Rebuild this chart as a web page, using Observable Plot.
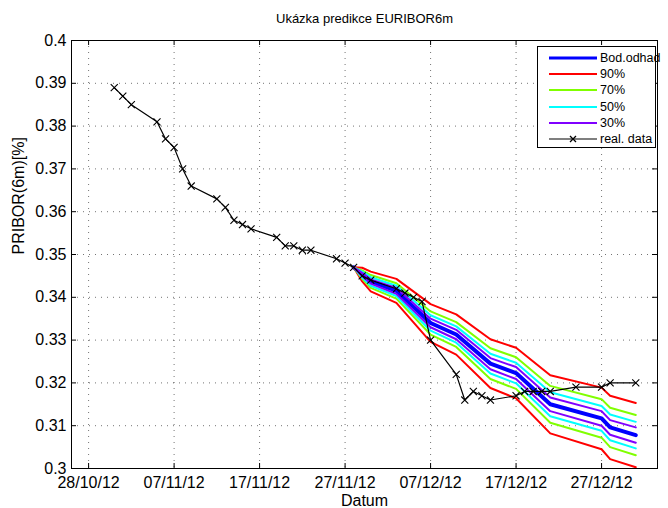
<!DOCTYPE html>
<html>
<head>
<meta charset="utf-8">
<script src="https://cdn.jsdelivr.net/npm/d3@7"></script>
<script src="https://cdn.jsdelivr.net/npm/@observablehq/plot@0.6"></script>
<style>
  html, body { margin: 0; padding: 0; background: #fff; }
  #wrap { position: relative; width: 668px; height: 508px; font-family: "Liberation Sans", Arial, Helvetica, sans-serif; }
  #legend { position: absolute; left: 537px; top: 46px; width: 119px; height: 102px; border: 1px solid #000; background: #fff; box-sizing: border-box; }
  .lrow { position: absolute; left: 0; height: 16px; width: 118px; }
  .lrow svg { position: absolute; left: 10px; top: 0; }
  .lrow span { position: absolute; left: 62px; top: 0; font-size: 12.5px; line-height: 16px; color: #000; white-space: nowrap; }
</style>
</head>
<body>
<div id="wrap"><div id="legend"></div></div>
<script>
// ---------------- data ----------------
const titleText = "Ukázka predikce EURIBOR6m";
const xLabelText = "Datum";
const yLabelText = "PRIBOR(6m)[%]";

const xTickDates = ["2012-10-28","2012-11-07","2012-11-17","2012-11-27","2012-12-07","2012-12-17","2012-12-27"];
const yTickValues = [0.30,0.31,0.32,0.33,0.34,0.35,0.36,0.37,0.38,0.39,0.40];

const realDates = ["2012-10-31","2012-11-01","2012-11-02","2012-11-05","2012-11-06","2012-11-07","2012-11-08","2012-11-09",
  "2012-11-12","2012-11-13","2012-11-14","2012-11-15","2012-11-16","2012-11-19","2012-11-20","2012-11-21","2012-11-22",
  "2012-11-23","2012-11-26","2012-11-27","2012-11-28","2012-11-29","2012-11-30","2012-12-03","2012-12-04","2012-12-05",
  "2012-12-06","2012-12-07","2012-12-10","2012-12-11","2012-12-12","2012-12-13","2012-12-14","2012-12-17","2012-12-18",
  "2012-12-19","2012-12-20","2012-12-21","2012-12-24","2012-12-27","2012-12-28","2012-12-31"];
const realValues = [0.389,0.387,0.385,0.381,0.377,0.375,0.370,0.366,
  0.363,0.361,0.358,0.357,0.356,0.354,0.352,0.352,0.351,
  0.351,0.349,0.348,0.347,0.345,0.344,0.342,0.341,0.340,
  0.339,0.330,0.322,0.316,0.318,0.317,0.316,0.317,0.318,
  0.318,0.318,0.318,0.319,0.319,0.320,0.320];

const predDates = ["2012-11-28","2012-11-29","2012-11-30","2012-12-03","2012-12-07","2012-12-10",
  "2012-12-14","2012-12-17","2012-12-21","2012-12-27","2012-12-28","2012-12-31"];
const bodOdhad = [0.3470,0.3453,0.3437,0.3415,0.3340,0.3313,0.3245,0.3223,0.3150,0.3117,0.3096,0.3078];
const upper90 = [0.3470,0.3469,0.3460,0.3443,0.3384,0.3360,0.3302,0.3282,0.3218,0.3189,0.3170,0.3153];
const lower90 = [0.3470,0.3437,0.3414,0.3387,0.3296,0.3266,0.3188,0.3164,0.3082,0.3045,0.3022,0.3003];
const upper70 = [0.3470,0.3463,0.3452,0.3433,0.3367,0.3342,0.3281,0.3260,0.3193,0.3162,0.3142,0.3125];
const lower70 = [0.3470,0.3443,0.3422,0.3397,0.3313,0.3284,0.3209,0.3186,0.3107,0.3072,0.3050,0.3031];
const upper50 = [0.3470,0.3460,0.3447,0.3427,0.3358,0.3332,0.3268,0.3247,0.3178,0.3146,0.3126,0.3109];
const lower50 = [0.3470,0.3446,0.3427,0.3403,0.3322,0.3294,0.3222,0.3199,0.3122,0.3088,0.3066,0.3047];
const upper30 = [0.3470,0.3457,0.3442,0.3422,0.3350,0.3324,0.3258,0.3237,0.3166,0.3134,0.3113,0.3096];
const lower30 = [0.3470,0.3449,0.3432,0.3408,0.3330,0.3302,0.3232,0.3209,0.3134,0.3100,0.3079,0.3060];

const legendLabels = ["Bod.odhad","90%","70%","50%","30%","real. data"];

// ---------------- styles ----------------
const colors = {center: "#0000ff", b90: "#ff0000", b70: "#80ff00", b50: "#00ffff", b30: "#8000ff", real: "#000000"};

// ---------------- build ----------------
const parse = d3.utcParse("%Y-%m-%d");
const xTicks = xTickDates.map(parse);
const rows = (dates, vals) => vals.map((v, i) => ({date: parse(dates[i]), value: v}));

const bandSeries = [
  {vals: upper90, color: colors.b90}, {vals: lower90, color: colors.b90},
  {vals: upper70, color: colors.b70}, {vals: lower70, color: colors.b70},
  {vals: upper50, color: colors.b50}, {vals: lower50, color: colors.b50},
  {vals: upper30, color: colors.b30}, {vals: lower30, color: colors.b30}
];

const W = 668, H = 508, mL = 71, mR = 11, mT = 40, mB = 40;
const frameW = W - mL - mR, frameH = H - mT - mB;
const tickLen = 5;
const gridStyle = {stroke: "#000", strokeOpacity: 0.55, strokeDasharray: "1,5"};

const chart = Plot.plot({
  width: W, height: H,
  marginLeft: mL, marginRight: mR, marginTop: mT, marginBottom: mB,
  style: {fontFamily: "'Liberation Sans', Arial, Helvetica, sans-serif", fontSize: "16px", background: "#fff", color: "#000"},
  x: {type: "utc", domain: [parse("2012-10-26"), new Date(Date.UTC(2013, 0, 2, 13))]},
  y: {domain: [0.3, 0.4]},
  marks: [
    Plot.gridX(xTicks, {x: d => d, ...gridStyle}),
    Plot.gridY(yTickValues, {y: d => d, ...gridStyle}),
    Plot.line(rows(predDates, bodOdhad), {x: "date", y: "value", stroke: colors.center, strokeWidth: 4}),
    ...bandSeries.map(s => Plot.line(rows(predDates, s.vals), {x: "date", y: "value", stroke: s.color, strokeWidth: 2})),
    Plot.line(rows(realDates, realValues), {x: "date", y: "value", stroke: colors.real, strokeWidth: 1.2}),
    Plot.dot(rows(realDates, realValues), {x: "date", y: "value", symbol: "times", r: 3.3, stroke: colors.real, strokeWidth: 1.1}),
    Plot.tickX(xTicks, {x: d => d, insetTop: frameH - tickLen, stroke: "#000"}),
    Plot.tickX(xTicks, {x: d => d, insetBottom: frameH - tickLen, stroke: "#000"}),
    Plot.tickY(yTickValues, {y: d => d, insetRight: frameW - tickLen, stroke: "#000"}),
    Plot.tickY(yTickValues, {y: d => d, insetLeft: frameW - tickLen, stroke: "#000"}),
    Plot.frame({stroke: "#000", strokeWidth: 1}),
    Plot.axisX({ticks: xTicks, tickFormat: d3.utcFormat("%d/%m/%y"), tickSize: 0, tickPadding: 8, label: null, fontSize: 16}),
    Plot.axisY({ticks: yTickValues, tickFormat: d3.format(".2~f"), tickSize: 0, tickPadding: 5, label: null, fontSize: 16}),
    Plot.text([titleText], {text: d => d, frameAnchor: "top", lineAnchor: "middle", dy: -22, fontSize: 13}),
    Plot.text([xLabelText], {text: d => d, frameAnchor: "bottom", lineAnchor: "middle", dy: 32.5, fontSize: 16}),
    Plot.text([yLabelText], {text: d => d, frameAnchor: "left", lineAnchor: "middle", dx: -53, rotate: -90, fontSize: 16})
  ]
});
document.getElementById("wrap").prepend(chart);

// ---------------- legend ----------------
const legendStyles = [
  {color: colors.center, width: 3, marker: false},
  {color: colors.b90, width: 2, marker: false},
  {color: colors.b70, width: 2, marker: false},
  {color: colors.b50, width: 2, marker: false},
  {color: colors.b30, width: 2, marker: false},
  {color: colors.real, width: 1.2, marker: true}
];
const legend = document.getElementById("legend");
legendLabels.forEach((lab, i) => {
  const st = legendStyles[i];
  const row = document.createElement("div");
  row.className = "lrow";
  row.style.top = (3 + i * 16.2) + "px";
  let svg = `<svg width="50" height="16"><line x1="1" y1="8" x2="49" y2="8" stroke="${st.color}" stroke-width="${st.width}"/>`;
  if (st.marker) svg += `<path d="M22,5L28,11M22,11L28,5" stroke="#000" stroke-width="1.3"/>`;
  svg += `</svg>`;
  row.innerHTML = svg + `<span>${lab}</span>`;
  legend.appendChild(row);
});
</script>
</body>
</html>
